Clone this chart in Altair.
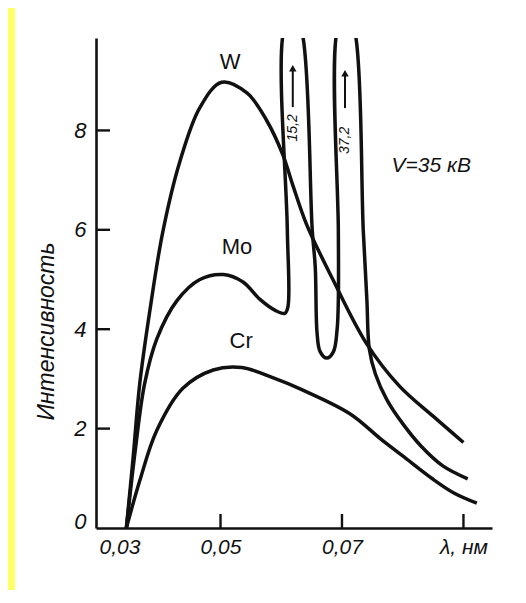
import altair as alt
import pandas as pd

# ---- data (λ in nm, intensity in arbitrary units) ----
w_lam = [0.0345, 0.0356, 0.0367, 0.0384, 0.0405, 0.0433, 0.0466, 0.0502, 0.0544,
         0.0576, 0.0603, 0.0619, 0.0642, 0.0685, 0.0741, 0.0795, 0.0850, 0.0900]
w_int = [0.0, 1.4, 2.9, 4.4, 5.96, 7.37, 8.46, 8.97, 8.75,
         8.2, 7.5, 6.9, 6.1, 5.0, 3.7, 2.85, 2.25, 1.72]

mo_lam = [0.0345, 0.0360, 0.0375, 0.0395, 0.0428, 0.0466, 0.0505, 0.0537, 0.0565,
          0.0590, 0.0606, 0.0611, 0.0610, 0.0602, 0.0618, 0.0636, 0.0651, 0.0656,
          0.0659, 0.0664, 0.0675, 0.0686, 0.0692, 0.0694, 0.0694, 0.0690, 0.0706,
          0.0723, 0.0735, 0.0741, 0.0745, 0.0755, 0.0774, 0.0800, 0.0830, 0.0866, 0.0907]
mo_int = [0.0, 1.6, 2.9, 3.8, 4.57, 5.0, 5.1, 4.95, 4.6,
          4.38, 4.32, 4.45, 6.0, 9.86, 10.6, 9.86, 6.0, 5.25,
          3.92, 3.55, 3.42, 3.55, 4.0, 4.6, 6.0, 9.86, 10.6,
          9.86, 6.0, 4.59, 3.6, 3.1, 2.58, 2.1, 1.65, 1.25, 0.99]

cr_lam = [0.0345, 0.0367, 0.0395, 0.0438, 0.0488, 0.0535, 0.0587, 0.0631, 0.0713,
          0.0763, 0.0800, 0.0850, 0.0885, 0.0922]
cr_int = [0.0, 0.95, 1.96, 2.81, 3.18, 3.23, 3.02, 2.8, 2.3,
          1.8, 1.45, 0.98, 0.7, 0.5]

curve_names = ["W", "Mo", "Cr"]
label_lam = [0.0516, 0.0527, 0.0534]
label_int = [9.38, 5.65, 3.76]

note_text = ["V=35 кВ"]
note_lam = [0.0847]
note_int = [7.28]

peak_text = ["15,2", "37,2"]
peak_lam = [0.0619, 0.0705]
peak_text_int = [8.05, 7.8]
arrow_tail = [8.47, 8.45]
arrow_shaft_top = [9.25, 9.15]

x_tick_values = [0.03, 0.05, 0.07, 0.09]
x_tick_labels = ["0,03", "0,05", "0,07", "λ, нм"]
x_tick_marks = [0.05, 0.07, 0.09]
y_tick_values = [0, 2, 4, 6, 8]
y_tick_marks = [2, 4, 6, 8]

X_DOMAIN = [0.0295, 0.0947]
Y_DOMAIN = [0, 9.86]

# ---- tables ----
rows = []
for name, lam, inten in [("W", w_lam, w_int), ("Mo", mo_lam, mo_int), ("Cr", cr_lam, cr_int)]:
    for i, (l, v) in enumerate(zip(lam, inten)):
        rows.append({"curve": name, "order": i, "lam": l, "val": v})
curves = pd.DataFrame(rows)
labels = pd.DataFrame({"text": curve_names, "lam": label_lam, "val": label_int})
notes = pd.DataFrame({"text": note_text, "lam": note_lam, "val": note_int})
peaks = pd.DataFrame({"text": peak_text, "lam": peak_lam, "val": peak_text_int,
                      "tail": arrow_tail, "top": arrow_shaft_top})

FONT = "Liberation Sans"
INK = "#111111"
W, H = 396, 490
TICK_PX = 14
# inward tick length expressed in data units of each axis
x_tick_len = TICK_PX / H * (Y_DOMAIN[1] - Y_DOMAIN[0])
y_tick_len = TICK_PX / W * (X_DOMAIN[1] - X_DOMAIN[0])
xticks = pd.DataFrame({"lam": x_tick_marks, "y0": [Y_DOMAIN[0]] * len(x_tick_marks),
                       "y1": [Y_DOMAIN[0] + x_tick_len] * len(x_tick_marks)})
yticks = pd.DataFrame({"val": y_tick_marks, "x0": [X_DOMAIN[0]] * len(y_tick_marks),
                       "x1": [X_DOMAIN[0] + y_tick_len] * len(y_tick_marks)})

xs = alt.Scale(domain=X_DOMAIN, nice=False, zero=False)
ys = alt.Scale(domain=Y_DOMAIN, nice=False, zero=False)

lab_map = "{" + ",".join(f"'{v:.2f}':'{t}'" for v, t in zip(x_tick_values, x_tick_labels)) + "}"

x_axis = alt.Axis(
    values=x_tick_values, ticks=False, grid=False, title=None,
    labelExpr=f"{lab_map}[format(datum.value, '.2f')]",
    domainColor=INK, domainWidth=2.6,
    labelFont=FONT, labelFontSize=21, labelFontStyle="italic", labelColor=INK,
    labelPadding=8, labelFlush=False, labelOverlap=False,
    labelAlign={"condition": {"test": "datum.value < 0.04", "value": "left"}, "value": "center"},
)
y_axis = alt.Axis(
    values=y_tick_values, ticks=False, grid=False,
    title="Интенсивность", titleFont=FONT, titleFontSize=23, titleFontStyle="italic",
    titleFontWeight="normal", titleColor=INK, titleAngle=270, titleX=-50, titleY=293,
    titleAlign="center", titleBaseline="middle",
    domainColor=INK, domainWidth=2.6,
    labelFont=FONT, labelFontSize=22, labelFontStyle="italic", labelColor=INK,
    labelPadding=10, labelFlush=False, labelOverlap=False,
    labelBaseline={"condition": {"test": "datum.value == 0", "value": "alphabetic"}, "value": "middle"},
)

base_x = alt.X("lam:Q", scale=xs, axis=x_axis)
base_y = alt.Y("val:Q", scale=ys, axis=y_axis)

lines = alt.Chart(curves).mark_line(
    color=INK, strokeWidth=3.5, interpolate="catmull-rom", clip=True
).encode(x=base_x, y=base_y, detail="curve:N", order="order:Q")

xtick_layer = alt.Chart(xticks).mark_rule(color=INK, strokeWidth=2.4).encode(
    x=alt.X("lam:Q", scale=xs), y=alt.Y("y0:Q", scale=ys), y2="y1:Q")
ytick_layer = alt.Chart(yticks).mark_rule(color=INK, strokeWidth=2.4).encode(
    y=alt.Y("val:Q", scale=ys), x=alt.X("x0:Q", scale=xs), x2="x1:Q")

label_layer = alt.Chart(labels).mark_text(
    font=FONT, fontSize=22, color=INK, align="center", baseline="middle"
).encode(x=alt.X("lam:Q", scale=xs), y=alt.Y("val:Q", scale=ys), text="text:N")

note_layer = alt.Chart(notes).mark_text(
    font=FONT, fontSize=21, fontStyle="italic", color=INK, align="center", baseline="middle"
).encode(x=alt.X("lam:Q", scale=xs), y=alt.Y("val:Q", scale=ys), text="text:N")

peak_text_layer = alt.Chart(peaks).mark_text(
    font=FONT, fontSize=14, fontStyle="italic", color=INK, angle=270,
    align="center", baseline="middle"
).encode(x=alt.X("lam:Q", scale=xs), y=alt.Y("val:Q", scale=ys), text="text:N")

shaft_layer = alt.Chart(peaks).mark_rule(color=INK, strokeWidth=2).encode(
    x=alt.X("lam:Q", scale=xs), y=alt.Y("tail:Q", scale=ys), y2="top:Q")

head_layer = alt.Chart(peaks).mark_point(
    shape="triangle-up", filled=True, color=INK, size=55, opacity=1
).encode(x=alt.X("lam:Q", scale=xs), y=alt.Y("top:Q", scale=ys))

frame = alt.Chart(pd.DataFrame({"k": [0]})).mark_rect(color="#FFFF66").encode(
    x=alt.value(-88), x2=alt.value(-81), y=alt.value(-30), y2=alt.value(H + 80))

chart = alt.layer(
    frame, lines, xtick_layer, ytick_layer, label_layer, note_layer,
    peak_text_layer, shaft_layer, head_layer
).properties(
    width=W, height=H,
    autosize=alt.AutoSizeParams(type="none"),
    padding={"left": 88, "top": 30, "right": 26, "bottom": 62},
    background="white",
).configure_view(stroke=None)

chart.save("out.html", embed_options={"renderer": "svg", "actions": False})
